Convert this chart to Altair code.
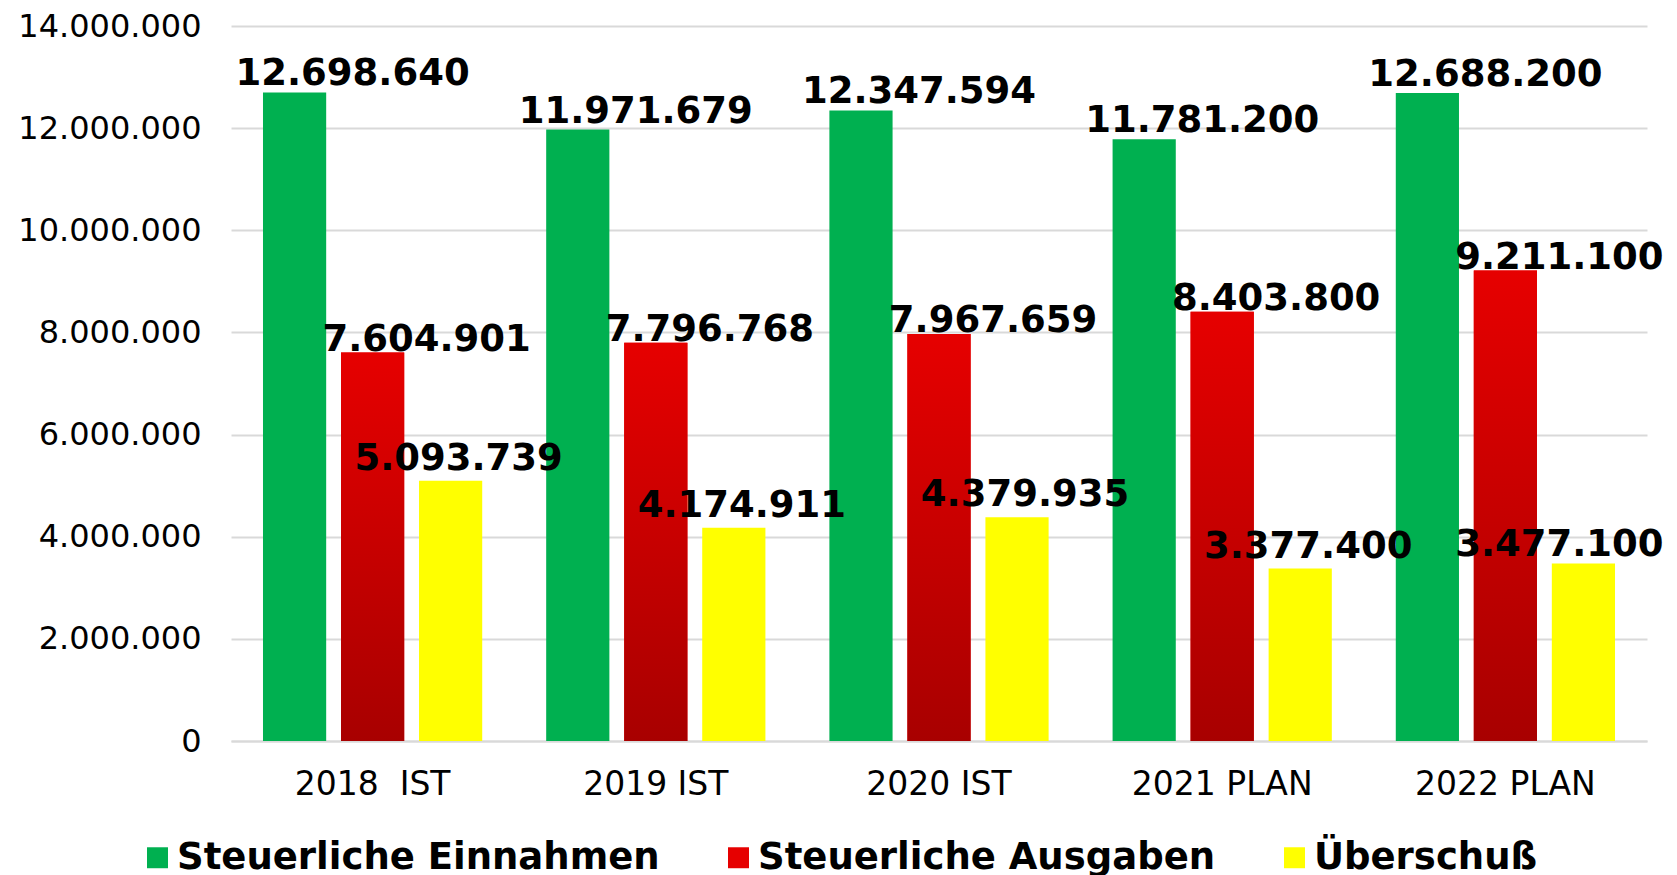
import altair as alt
import pandas as pd

years = ["2018 \u00a0IST", "2019 IST", "2020 IST", "2021 PLAN", "2022 PLAN"]
series = ["Steuerliche Einnahmen", "Steuerliche Ausgaben", "Überschuß"]
einnahmen = [12698640, 11971679, 12347594, 11781200, 12688200]
ausgaben = [7604901, 7796768, 7967659, 8403800, 9211100]
ueberschuss = [5093739, 4174911, 4379935, 3377400, 3477100]
colors = ["#00B050", "#E60000", "#FFFF00"]

rows = []
for s, vals in zip(series, [einnahmen, ausgaben, ueberschuss]):
    for y, v in zip(years, vals):
        rows.append({"year": y, "series": s, "value": v,
                     "label": f"{v:,}".replace(",", ".")})
df = pd.DataFrame(rows)

FONT = "DejaVu Sans"

x = alt.X("year:N", sort=years, title=None,
          scale=alt.Scale(paddingInner=0, paddingOuter=0),
          axis=alt.Axis(labelAngle=0, ticks=False, labelPadding=27, labelFontSize=33,
                        labelFont=FONT, labelColor="#000000", domainColor="#D9D9D9",
                        domainWidth=2, grid=False, labelLimit=0))
xo = alt.XOffset("series:N", sort=series,
                 scale=alt.Scale(domain=series, paddingInner=0.19, paddingOuter=0.41))
y = alt.Y("value:Q", title=None,
          scale=alt.Scale(domain=[0, 14000000], nice=False),
          axis=alt.Axis(values=list(range(0, 14000001, 2000000)), ticks=False, domain=False,
                        labelPadding=30, labelFontSize=32, labelFont=FONT, labelColor="#000000",
                        gridColor="#D9D9D9", gridWidth=2, labelLimit=0,
                        labelExpr="replace(format(datum.value, ',.0f'), /,/g, '.')"))

base = alt.Chart(df)

bars = base.mark_bar().encode(
    x=x, xOffset=xo, y=y,
    color=alt.Color("series:N", sort=series,
                    scale=alt.Scale(domain=series, range=colors),
                    legend=alt.Legend(title=None, orient="none", direction="horizontal",
                                      legendX=-92, legendY=813, symbolType="square",
                                      symbolSize=440, symbolStrokeWidth=0,
                                      labelFont=FONT, labelFontSize=37, labelFontWeight="bold",
                                      labelColor="#000000", labelOffset=1, columnPadding=60,
                                      labelLimit=0)),
)

red_grad = alt.Gradient(gradient="linear",
                        stops=[alt.GradientStop(color="#E60000", offset=0),
                               alt.GradientStop(color="#A80000", offset=1)],
                        x1=0, x2=0, y1=0, y2=1)
red_bars = base.transform_filter(alt.datum.series == series[1]).mark_bar(
    color=red_grad).encode(x=x, xOffset=xo, y=y)


def labels(cond, dx, dy):
    return base.transform_filter(cond).mark_text(
        font=FONT, fontSize=37, fontWeight="bold", color="#000000",
        align="center", baseline="alphabetic", dx=dx, dy=dy
    ).encode(x=x, xOffset=xo, y=y, text="label:N")


last = years[-1]
chart = alt.layer(
    bars, red_bars,
    labels(alt.datum.series == series[0], 58, -7),
    labels(alt.datum.series == series[1], 54, -2),
    labels((alt.datum.series == series[2]) & (alt.datum.year != last), 8, -11),
    labels((alt.datum.series == series[2]) & (alt.datum.year == last), -24, -7),
).properties(
    width=1416, height=715,
    autosize=alt.AutoSizeParams(type="none"),
    padding={"left": 223, "top": 18, "right": 22, "bottom": 140},
).configure(background="#FFFFFF").configure_view(stroke="transparent", strokeWidth=0)

chart.save("out.html", embed_options={"renderer": "svg", "actions": False})
